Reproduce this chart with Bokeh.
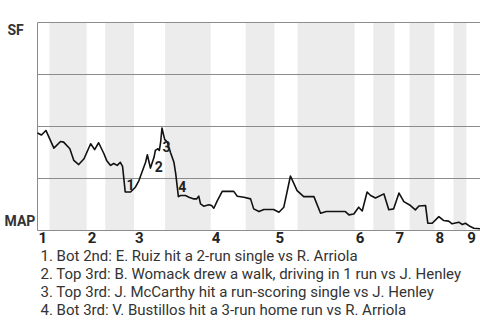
from bokeh.plotting import figure
from bokeh.models import Range1d, Label
from bokeh.core.properties import value
from bokeh.embed import file_html
from bokeh.resources import INLINE

# game progress (0-100) and SF win probability (%)
progress = [0, 0.9, 1.9, 3.7, 5.2, 5.9, 7.3, 8.2, 9.3, 10.5, 12.0, 12.9, 13.8, 15.0, 15.6,
            16.5, 17.2, 18.0, 18.7, 19.2, 19.8, 21.0, 22.1, 22.9, 24.4, 24.8, 25.5, 26.3,
            26.6, 27.2, 27.5, 27.8, 28.1, 28.7, 29.3, 30.0, 30.8, 31.2, 31.8, 32.3, 33.4,
            34.2, 35.3, 35.9, 36.4, 36.8, 37.5, 38.7, 39.3, 39.8, 40.6, 41.7, 44.3, 45.1,
            46.6, 48.1, 48.8, 50.0, 51.1, 53.3, 54.5, 55.6, 57.1, 58.6, 60.1, 62.4, 63.9,
            65.2, 69.5, 70.3, 71.4, 72.5, 73.3, 74.4, 75.2, 76.3, 78.2, 79.3, 80.4, 81.6,
            82.7, 84.2, 85.3, 86.1, 87.6, 88.1, 89.1, 90.6, 91.7, 92.8, 93.6, 95.1, 95.9,
            96.6, 97.7, 98.5, 100]
sf_wp = [46.9, 45.9, 48.1, 39.6, 42.8, 42.5, 39.3, 33.7, 31.7, 34.5, 41.7, 38.9, 42.2, 36.9,
         33.7, 31.3, 32.2, 31.3, 32.8, 30.8, 18.5, 18.5, 20.8, 24.0, 32.8, 36.4, 30.0, 35.2,
         38.5, 39.3, 38.5, 42.5, 49.3, 43.8, 42.5, 37.6, 32.8, 27.3, 16.3, 16.8, 16.8, 16.0,
         15.2, 15.2, 16.5, 12.8, 11.7, 12.4, 12.0, 10.7, 14.4, 18.8, 18.8, 16.5, 16.0, 15.2,
         10.4, 9.1, 10.1, 10.1, 8.8, 11.2, 26.2, 19.2, 16.3, 16.3, 8.3, 9.1, 9.1, 7.5, 7.9,
         11.2, 9.4, 18.5, 16.8, 15.6, 17.6, 10.0, 10.4, 18.0, 13.9, 12.0, 9.9, 11.8, 12.0,
         3.5, 3.5, 6.7, 4.8, 4.5, 3.2, 4.0, 2.9, 3.5, 1.9, 1.1, 0.8]

# bottom halves of innings (shaded)
bot_start = [2.7, 15.3, 28.8, 47.0, 58.7, 75.8, 84.0, 93.9]
bot_end = [11.1, 21.8, 39.1, 53.5, 71.6, 80.6, 89.6, 96.8]
inning_start = [0, 11.1, 21.8, 39.1, 53.5, 71.6, 80.6, 89.6, 96.8]
inning_labels = ["1", "2", "3", "4", "5", "6", "7", "8", "9"]
grid_levels = [0, 25, 50, 75, 100]

# key events
event_x = [21.0, 27.4, 29.1, 32.7]
event_y = [22.1, 30.9, 40.5, 21.2]
event_labels = ["1", "2", "3", "4"]
notes = [
    "1. Bot 2nd: E. Ruiz hit a 2-run single vs R. Arriola",
    "2. Top 3rd: B. Womack drew a walk, driving in 1 run vs J. Henley",
    "3. Top 3rd: J. McCarthy hit a run-scoring single vs J. Henley",
    "4. Bot 3rd: V. Bustillos hit a 3-run home run vs R. Arriola",
]
team_top = "SF"
team_bottom = "MAP"

FONT = "Roboto"
W, H = 480, 320
LEFT, RIGHT, TOP, BOTTOM = 37, 480, 22, 230  # chart box in page pixels
xs_px = (RIGHT - LEFT) / 100.0
ys_px = (BOTTOM - TOP) / 100.0

p = figure(width=W, height=H, output_backend="svg", toolbar_location=None,
           x_range=Range1d(-LEFT / xs_px, 100 + (W - RIGHT) / xs_px),
           y_range=Range1d(-(H - BOTTOM) / ys_px, 100 + TOP / ys_px),
           min_border=0)
p.xaxis.visible = False
p.yaxis.visible = False
p.grid.visible = False
p.outline_line_color = None
p.background_fill_color = "white"
p.border_fill_color = "white"

p.quad(left=bot_start, right=bot_end, bottom=[0] * len(bot_start),
       top=[100] * len(bot_start), fill_color="#ececec", line_color=None)

p.segment(x0=[0] * len(grid_levels), x1=[100] * len(grid_levels),
          y0=grid_levels, y1=grid_levels, line_color="#8c8c8c", line_width=1)
p.segment(x0=[0], x1=[0], y0=[0], y1=[100], line_color="#8c8c8c", line_width=1)

p.line(progress, sf_wp, line_color="#111111", line_width=1.6, line_join="round")

p.text(x=event_x, y=event_y, text=event_labels, text_font=value(FONT),
       text_font_style="bold", text_font_size="14px", text_color="#222222",
       text_align="center", text_baseline="middle")

p.add_layout(Label(x=7, y=291, x_units="screen", y_units="screen", text=team_top,
                   text_font=FONT, text_font_style="bold", text_font_size="14px",
                   text_color="#333333", text_baseline="middle"))
p.add_layout(Label(x=4, y=100, x_units="screen", y_units="screen", text=team_bottom,
                   text_font=FONT, text_font_style="bold", text_font_size="14px",
                   text_color="#333333", text_baseline="middle"))

for xs, lab in zip(inning_start, inning_labels):
    p.add_layout(Label(x=xs, y=83, x_units="data", y_units="screen", text=lab,
                       x_offset=1, text_font=FONT, text_font_style="bold",
                       text_font_size="15px", text_color="#222222",
                       text_baseline="middle"))

for i, note in enumerate(notes):
    p.add_layout(Label(x=40, y=65 - 18 * i, x_units="screen", y_units="screen", text=note,
                       text_font=FONT, text_font_size="15px", text_color="#333333",
                       text_baseline="middle"))

open("out.html", "w").write(file_html(p, INLINE))
